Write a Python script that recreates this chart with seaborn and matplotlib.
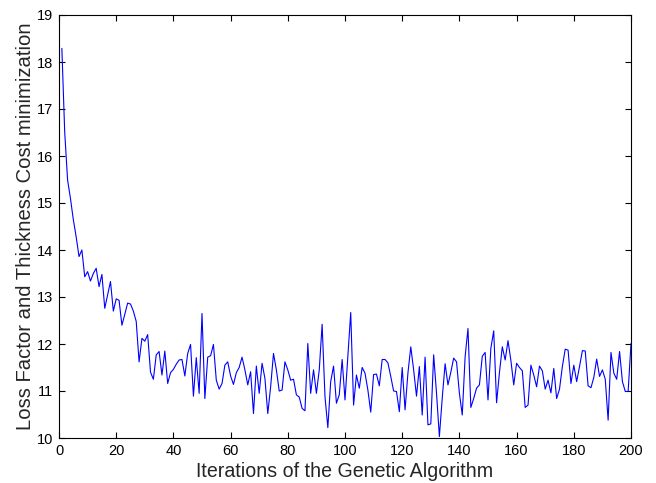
"""
Genetic algorithm convergence: loss factor and thickness cost per iteration.
"""

import matplotlib

matplotlib.use("Agg")
import matplotlib.pyplot as plt
import pandas as pd
import seaborn as sns

# --- Data ---

iterations = list(range(1, 201))

cost_1_50 = [
    18.29, 16.50, 15.49, 15.10, 14.65, 14.28, 13.86, 14.00, 13.43, 13.54,
    13.34, 13.50, 13.61, 13.22, 13.48, 12.76, 13.05, 13.33, 12.70, 12.96,
    12.93, 12.40, 12.63, 12.87, 12.85, 12.70, 12.48, 11.62, 12.12, 12.06,
    12.20, 11.40, 11.25, 11.77, 11.84, 11.34, 11.85, 11.16, 11.39, 11.46,
    11.57, 11.66, 11.67, 11.32, 11.80, 11.99, 10.89, 11.71, 10.95, 12.65,
]
cost_51_100 = [
    10.84, 11.72, 11.75, 11.99, 11.23, 11.04, 11.16, 11.55, 11.62, 11.32,
    11.14, 11.39, 11.50, 11.72, 11.45, 11.13, 11.41, 10.52, 11.53, 10.95,
    11.59, 11.27, 10.52, 11.09, 11.80, 11.45, 11.00, 11.02, 11.62, 11.45,
    11.23, 11.25, 10.92, 10.87, 10.63, 10.58, 12.01, 10.95, 11.45, 10.95,
    11.45, 12.42, 10.88, 10.22, 11.20, 11.53, 10.74, 10.92, 11.67, 10.81,
]
cost_101_150 = [
    11.75, 12.67, 10.70, 11.34, 11.06, 11.50, 11.38, 11.02, 10.55, 11.35,
    11.36, 11.11, 11.67, 11.67, 11.60, 11.31, 11.00, 10.99, 10.56, 11.50,
    10.60, 11.38, 11.94, 11.45, 10.89, 11.52, 10.49, 11.72, 10.28, 10.30,
    11.77, 10.95, 10.03, 10.85, 11.58, 11.13, 11.40, 11.70, 11.62, 10.95,
    10.49, 11.73, 12.33, 10.65, 10.84, 11.06, 11.13, 11.74, 11.82, 10.81,
]
cost_151_200 = [
    11.91, 12.28, 10.75, 11.39, 11.94, 11.66, 12.07, 11.65, 11.13, 11.59,
    11.50, 11.43, 10.65, 10.70, 11.55, 11.34, 11.09, 11.53, 11.43, 11.04,
    11.23, 10.96, 11.48, 10.84, 11.04, 11.52, 11.89, 11.87, 11.16, 11.55,
    11.20, 11.52, 11.86, 11.85, 11.11, 11.07, 11.29, 11.68, 11.31, 11.45,
    11.25, 10.38, 11.82, 11.38, 11.25, 11.84, 11.20, 10.99, 10.99, 12.01,
]

x_ticks = [0, 20, 40, 60, 80, 100, 120, 140, 160, 180, 200]
y_ticks = [10, 11, 12, 13, 14, 15, 16, 17, 18, 19]


def main():
    cost = cost_1_50 + cost_51_100 + cost_101_150 + cost_151_200
    df = pd.DataFrame({"iteration": iterations, "cost": cost})

    sns.set_style("white")
    plt.rcParams["font.family"] = ["Liberation Sans", "DejaVu Sans"]

    fig = plt.figure(figsize=(6.56, 4.83), dpi=100)
    ax = fig.add_axes((59 / 656, 1 - 438 / 483, 572 / 656, 423 / 483))

    sns.lineplot(data=df, x="iteration", y="cost", ax=ax, color="#0000ff",
                 linewidth=0.8)

    ax.set_xlim(0, 200)
    ax.set_ylim(10, 19)
    ax.set_xticks(x_ticks)
    ax.set_yticks(y_ticks)

    # MATLAB-like box with inward ticks on every side
    for spine in ax.spines.values():
        spine.set_visible(True)
        spine.set_color("black")
        spine.set_linewidth(0.8)
    ax.tick_params(direction="in", length=4, width=0.8, top=True, right=True,
                   bottom=True, left=True, labelsize=10.5, pad=4,
                   colors="black")

    ax.set_xlabel("Iterations of the Genetic Algorithm", fontsize=14.1,
                  labelpad=3)
    ax.set_ylabel("Loss Factor and Thickness Cost minimization", fontsize=14.6,
                  labelpad=1.5)

    fig.savefig("out.png", dpi=100)
    plt.close(fig)


if __name__ == "__main__":
    main()
